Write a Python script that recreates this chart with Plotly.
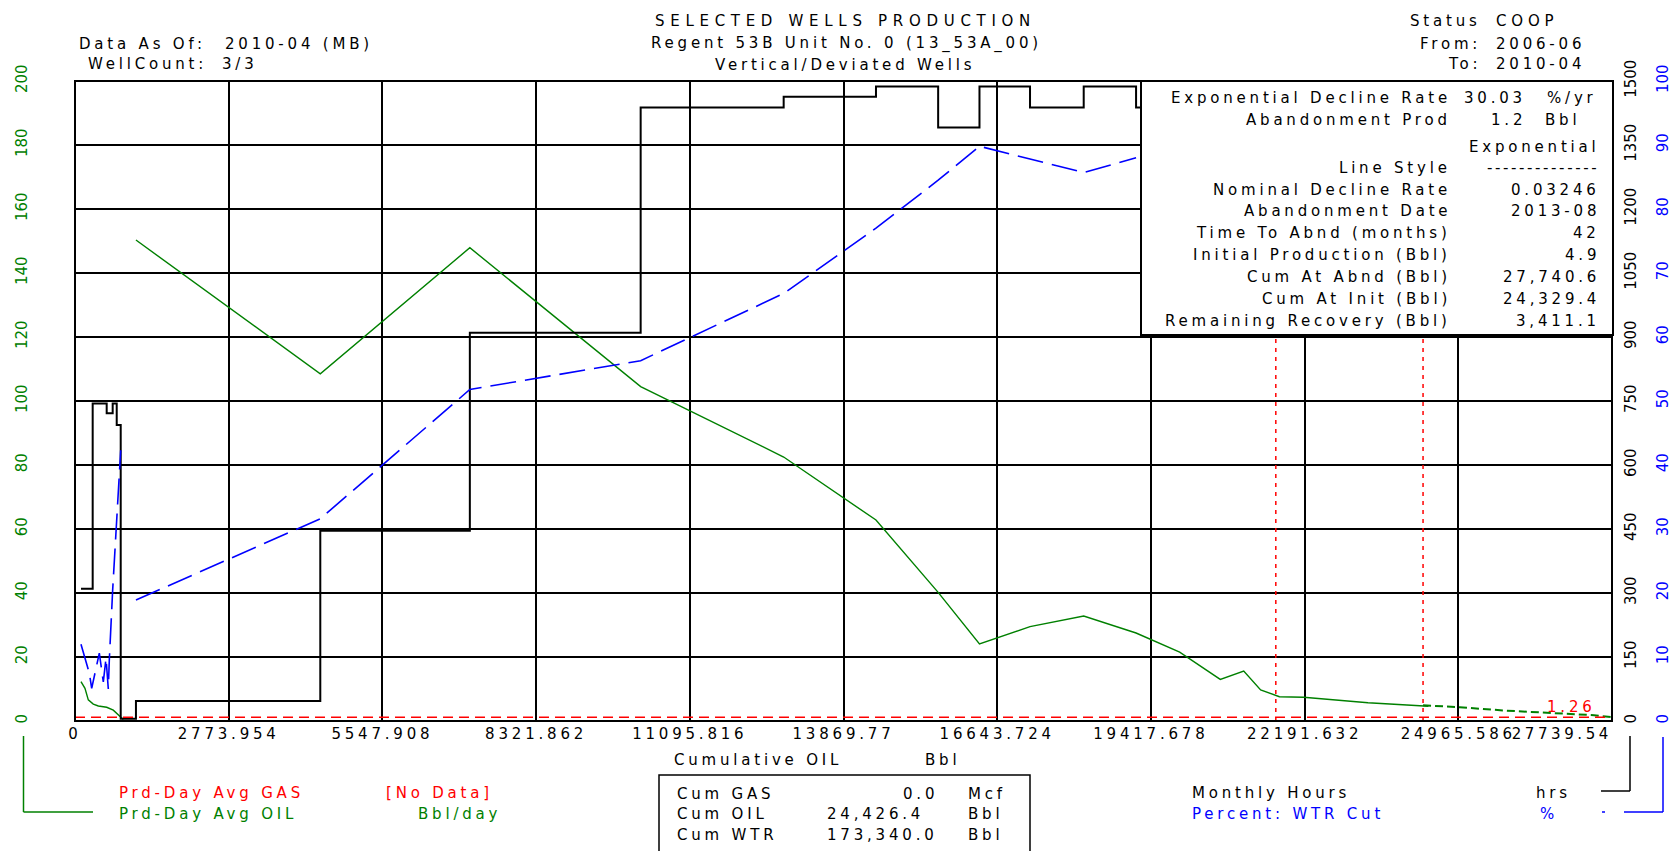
import plotly.graph_objects as go

# ---------------- data ----------------
x_max = 27739.54
x_tick_vals = [0, 2773.954, 5547.908, 8321.862, 11095.816, 13869.77,
               16643.724, 19417.678, 22191.632, 24965.586]
x_tick_text = ["0", "2773.954", "5547.908", "8321.862", "11095.816", "13869.77",
               "16643.724", "19417.678", "22191.632", "24965.586"]
x_last_tick = 27739.54
x_last_text = "27739.54"

# early (first well start-up) data near the origin
oil_cum_early = [108, 180, 240, 330, 421, 572, 691, 781, 843, 872]
oil_rate_early = [12.3, 10.2, 6.6, 5.3, 4.7, 4.3, 3.4, 1.9, 0.8, 0.5]
wtr_cum_early = [108, 258, 301, 439, 511, 560, 601, 619, 680, 753, 825]
wtr_pct_early = [12.0, 7.5, 5.1, 10.6, 6.1, 9.8, 5.0, 9.5, 20.5, 31.4, 42.3]
hrs_cum_early = [108, 319, 572, 680, 753, 825]
hrs_early = [310, 744, 721, 744, 694, 5]

# main monthly data
cum_main = [1100, 4427, 7126, 10209, 12790, 14456, 15578, 16324, 17236, 18205, 19150]
oil_main = [150.3, 108.5, 147.9, 104.5, 82.5, 62.8, 40.2, 24.1, 29.5, 32.8, 27.5]
wtr_main = [18.9, 31.6, 51.8, 56.3, 66.8, 77.0, 84.5, 89.8, 87.8, 85.7, 88.0]
hrs_main = [47, 446, 910, 1438, 1463, 1487, 1391, 1487, 1438, 1487, 1438]
hrs_tail_cum = [19937]
hrs_tail = [1438]

# late oil data
oil_cum_late = [19937, 20670, 21093, 21398, 21737, 22174, 22660, 23336, 23728, 24311, 24426]
oil_rate_late = [21.5, 13.0, 15.6, 9.7, 7.6, 7.4, 6.6, 5.7, 5.3, 4.7, 4.6]

# exponential forecast
fc_cum = [24329.4, 24991, 25769, 26639, 27415, 27740.6]
fc_rate = [4.9, 4.3, 3.3, 2.6, 1.8, 1.2]

aband_rate = 1.2
fit_marks = [21672, 24329.4]

# ---------------- geometry helpers ----------------
W, H = 1674, 851
ML, MR, MT, MB = 10, 10, 81, 130
PW = W - ML - MR
PH = H - MT - MB
PX0, PX1 = 75, 1612


def px(x):
    return (x - ML) / PW


def py(y):
    return 1 - (y - MT) / PH


LS = 3.8
FONT = "DejaVu Sans"
GREEN = "#008000"
BLUE = "#0000FF"
RED = "#FF0000"


def sp(s, ls=LS):
    return f'<span style="letter-spacing:{ls}px">{s}</span>'


fig = go.Figure()

oil_x = oil_cum_early + [None] + cum_main + oil_cum_late
oil_y = oil_rate_early + [None] + oil_main + oil_rate_late
fig.add_trace(go.Scatter(x=oil_x, y=oil_y, mode="lines", yaxis="y",
                         line=dict(color=GREEN, width=1.4), connectgaps=False,
                         showlegend=False, hoverinfo="skip"))
fig.add_trace(go.Scatter(x=fc_cum, y=fc_rate, mode="lines", yaxis="y",
                         line=dict(color=GREEN, width=2, dash="8px,4px"),
                         showlegend=False, hoverinfo="skip"))

hrs_x = hrs_cum_early + cum_main + hrs_tail_cum
hrs_y = hrs_early + hrs_main + hrs_tail
fig.add_trace(go.Scatter(x=hrs_x, y=hrs_y, mode="lines", yaxis="y2",
                         line=dict(color="black", width=2, shape="hv"),
                         showlegend=False, hoverinfo="skip"))

wtr_x = wtr_cum_early + [None] + cum_main
wtr_y = wtr_pct_early + [None] + wtr_main
fig.add_trace(go.Scatter(x=wtr_x, y=wtr_y, mode="lines", yaxis="y3",
                         line=dict(color=BLUE, width=1.6, dash="26px,9px"),
                         connectgaps=False, showlegend=False, hoverinfo="skip"))

# helper trace to activate xaxis2 (last tick label)
fig.add_trace(go.Scatter(x=[x_max], y=[None], xaxis="x2", yaxis="y",
                         mode="lines", showlegend=False, hoverinfo="skip"))

shapes = []
shapes.append(dict(type="line", xref="x domain", yref="y", x0=0, x1=1,
                   y0=aband_rate, y1=aband_rate,
                   line=dict(color=RED, width=1.5, dash="10px,6px"), layer="above"))
for xm in fit_marks:
    shapes.append(dict(type="line", xref="x", yref="y domain", x0=xm, x1=xm,
                       y0=0, y1=1, line=dict(color=RED, width=1.5, dash="4px,5px"),
                       layer="above"))
shapes.append(dict(type="rect", xref="x domain", yref="y domain", x0=0, x1=1, y0=0, y1=1,
                   line=dict(color="black", width=2), layer="above"))
shapes.append(dict(type="rect", xref="paper", yref="paper",
                   x0=px(1141), x1=px(1613), y0=py(335), y1=py(81),
                   fillcolor="white", line=dict(color="black", width=2), layer="above"))
shapes.append(dict(type="rect", xref="paper", yref="paper",
                   x0=px(659), x1=px(1030), y0=py(870), y1=py(775),
                   fillcolor="white", line=dict(color="black", width=1.5), layer="above"))


def seg(x0, y0, x1, y1, color, width=1.5):
    shapes.append(dict(type="line", xref="paper", yref="paper",
                       x0=px(x0), y0=py(y0), x1=px(x1), y1=py(y1),
                       line=dict(color=color, width=width)))

seg(23.5, 736, 23.5, 812, GREEN)
seg(23.5, 812, 93, 812, GREEN)
seg(1630, 736, 1630, 791, "black")
seg(1601, 791, 1630, 791, "black")
seg(1663, 737, 1663, 812, BLUE)
seg(1624, 812, 1663, 812, BLUE)
seg(1602, 812, 1605, 812, BLUE)

annotations = []


def ann(text, x, y, anchor="left", color="black", size=15, ls=LS):
    if anchor == "right":
        x = x + ls  # compensate trailing letter-spacing
    annotations.append(dict(text=sp(text, ls), x=px(x), y=py(y), xref="paper", yref="paper",
                            xanchor=anchor, yanchor="middle", showarrow=False,
                            font=dict(family=FONT, size=size, color=color)))

# header
ann("SELECTED WELLS PRODUCTION", 845, 21, "center", ls=5.7)
ann("Regent 53B Unit No. 0 (13_53A_00)", 846, 44, "center")
ann("Vertical/Deviated Wells", 845, 65, "center")
ann("Data As Of:", 77, 44)
ann("2010-04 (MB)", 223, 44)
ann("WellCount:", 86, 64)
ann("3/3", 220, 64)
ann("Status", 1479, 21, "right")
ann("COOP", 1494, 21, ls=4.8)
ann("From:", 1479, 44, "right")
ann("2006-06", 1494, 44)
ann("To:", 1479, 64, "right")
ann("2010-04", 1494, 64)

rows = [
    ("Exponential Decline Rate", 98, None),
    ("Abandonment Prod", 120, None),
    ("Line Style", 168, "--------------"),
    ("Nominal Decline Rate", 190, "0.03246"),
    ("Abandonment Date", 211, "2013-08"),
    ("Time To Abnd (months)", 233, "42"),
    ("Initial Production (Bbl)", 255, "4.9"),
    ("Cum At Abnd (Bbl)", 277, "27,740.6"),
    ("Cum At Init (Bbl)", 299, "24,329.4"),
    ("Remaining Recovery (Bbl)", 321, "3,411.1"),
]
for lab, yy, val in rows:
    ann(lab, 1449, yy, "right")
    if val is not None:
        ann(val, 1598, yy, "right", ls=(2.6 if val.startswith("-") else LS))
ann("30.03", 1524, 98, "right")
ann("%/yr", 1545, 98)
ann("1.2", 1524, 120, "right")
ann("Bbl", 1543, 120)
ann("Exponential", 1598, 147, "right")

ann("1.26", 1594, 707, "right", color=RED)

ann("Cumulative OIL", 672, 760)
ann("Bbl", 923, 760)

ann("Prd-Day Avg GAS", 117, 793, color=RED)
ann("[No Data]", 384, 793, color=RED)
ann("Prd-Day Avg OIL", 117, 814, color=GREEN)
ann("Bbl/day", 416, 814, color=GREEN)
ann("Cum GAS", 675, 794)
ann("Cum OIL", 675, 814)
ann("Cum WTR", 675, 835)
ann("0.0", 936, 794, "right")
ann("24,426.4", 922, 814, "right")
ann("173,340.0", 936, 835, "right")
ann("Mcf", 966, 794)
ann("Bbl", 966, 814)
ann("Bbl", 966, 835)
ann("Monthly Hours", 1190, 793)
ann("hrs", 1534, 793)
ann("Percent: WTR Cut", 1190, 814, color=BLUE)
ann("%", 1538, 814, color=BLUE)

tick_font = dict(family=FONT, size=15, color="black")

fig.update_layout(
    width=W, height=H,
    margin=dict(l=ML, r=MR, t=MT, b=MB, autoexpand=False),
    paper_bgcolor="white", plot_bgcolor="white",
    font=dict(family=FONT, size=15, color="black"),
    showlegend=False,
    xaxis=dict(domain=[px(PX0), px(PX1)], range=[0, x_max], anchor="y",
               tickmode="array", tickvals=x_tick_vals,
               ticktext=[sp(t) for t in x_tick_text],
               showgrid=True, gridcolor="black", gridwidth=2,
               zeroline=False, showline=False, ticks="", tickfont=tick_font,
               ticklabelstandoff=2, automargin=False),
    xaxis2=dict(domain=[px(PX0), px(PX1)], range=[0, x_max], anchor="y",
                overlaying="x", side="bottom", tickmode="array",
                tickvals=[x_last_tick], ticktext=[sp(x_last_text, 3.6)],
                ticklabelposition="outside left",
                showgrid=False, zeroline=False, showline=False, ticks="",
                tickfont=tick_font, ticklabelstandoff=2, automargin=False),
    yaxis=dict(range=[0, 200], tickmode="linear", tick0=0, dtick=20,
               anchor="free", position=px(30), side="left",
               showgrid=True, gridcolor="black", gridwidth=1.5,
               zeroline=False, showline=False, ticks="", tickangle=-90,
               tickfont=dict(family=FONT, size=15, color=GREEN), automargin=False),
    yaxis2=dict(range=[0, 1500], tickmode="linear", tick0=0, dtick=150,
                anchor="free", position=px(1620), side="right", overlaying="y",
                showgrid=False, zeroline=False, showline=False, ticks="", tickangle=-90,
                tickfont=dict(family=FONT, size=15, color="black"), automargin=False),
    yaxis3=dict(range=[0, 100], tickmode="linear", tick0=0, dtick=10,
                anchor="free", position=px(1652), side="right", overlaying="y",
                showgrid=False, zeroline=False, showline=False, ticks="", tickangle=-90,
                tickfont=dict(family=FONT, size=15, color=BLUE), automargin=False),
    shapes=shapes,
    annotations=annotations,
)

fig.write_html("out.html", config={"displayModeBar": False},
               post_script="document.body.style.margin='0';document.body.style.overflow='hidden';")
